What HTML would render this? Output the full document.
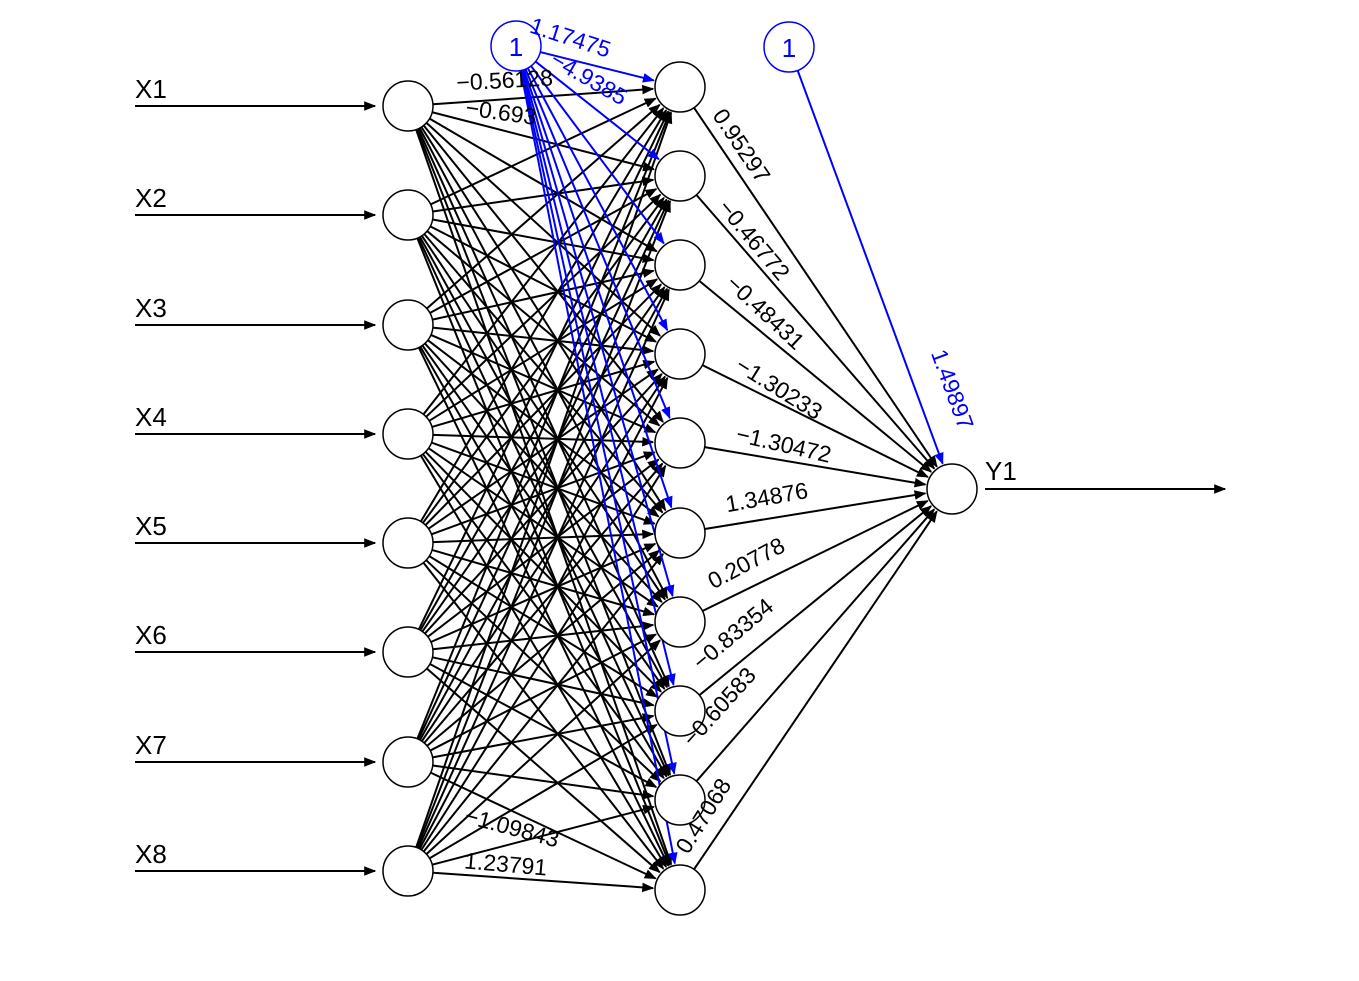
<!DOCTYPE html>
<html><head><meta charset="utf-8">
<style>
html,body{margin:0;padding:0;background:#fff;}
svg{display:block;}
text{font-family:"Liberation Sans",Arial,sans-serif;}
</style></head>
<body>
<svg id="s" width="1359" height="981" viewBox="0 0 1359 981" xmlns="http://www.w3.org/2000/svg">
<defs>
<marker id="ak" viewBox="0 0 10 10" refX="9" refY="5" markerWidth="12" markerHeight="12" orient="auto" markerUnits="userSpaceOnUse"><path d="M0,1 L10,5 L0,9 z" fill="#000"/></marker>
<marker id="ab" viewBox="0 0 10 10" refX="9" refY="5" markerWidth="12" markerHeight="12" orient="auto" markerUnits="userSpaceOnUse"><path d="M0,1 L10,5 L0,9 z" fill="#00f"/></marker>
</defs>
<g id="lines"></g>
<g id="nodes"></g>
<g font-size="26" fill="#000">
<text x="135" y="98">X1</text><text x="135" y="207">X2</text><text x="135" y="317">X3</text><text x="135" y="426">X4</text>
<text x="135" y="535">X5</text><text x="135" y="644">X6</text><text x="135" y="754">X7</text><text x="135" y="863">X8</text>
<text x="985" y="480">Y1</text>
</g>
<g font-size="23" fill="#000" text-anchor="middle">
<text transform="translate(735,150) rotate(56)">0.95297</text>
<text transform="translate(748,245) rotate(50)">−0.46772</text>
<text transform="translate(760,318) rotate(43)">−0.48431</text>
<text transform="translate(775,395) rotate(32)">−1.30233</text>
<text transform="translate(782,452) rotate(13)">−1.30472</text>
<text transform="translate(768,505) rotate(-10)">1.34876</text>
<text transform="translate(750,570) rotate(-28)">0.20778</text>
<text transform="translate(738,640) rotate(-40)">−0.83354</text>
<text transform="translate(725,712) rotate(-48)">−0.60583</text>
<text transform="translate(710,820) rotate(-58)">0.47068</text>
<text transform="translate(505,88) rotate(-3)">−0.56128</text>
<text transform="translate(500,120) rotate(8)">−0.693</text>
<text transform="translate(505,872) rotate(5)">1.23791</text>
<text transform="translate(510,835) rotate(15)">−1.09843</text>
</g>
<g font-size="23" fill="#00f" text-anchor="middle">
<text transform="translate(945,392) rotate(70)">1.49897</text>
<text transform="translate(568,45) rotate(18)">1.17475</text>
<text transform="translate(585,85) rotate(30)">−4.9385</text>
</g>
<script>
var s="http://www.w3.org/2000/svg",L=document.getElementById("lines"),N=document.getElementById("nodes");
var R=25,inY=[106,215,325,434,543,652,762,871],hY=[87,176,265,354,443,533,622,711,800,890],IX=408,HX=680,OX=952,OY=489;
function line(x1,y1,x2,y2,c,m,sh){var dx=x2-x1,dy=y2-y1,d=Math.sqrt(dx*dx+dy*dy);
if(sh){x1+=dx/d*R;y1+=dy/d*R;}x2-=dx/d*(R+2);y2-=dy/d*(R+2);
var l=document.createElementNS(s,"line");l.setAttribute("x1",x1);l.setAttribute("y1",y1);l.setAttribute("x2",x2);l.setAttribute("y2",y2);
l.setAttribute("stroke",c);l.setAttribute("stroke-width","2");l.setAttribute("marker-end","url(#"+m+")");L.appendChild(l);}
function circ(x,y,c){var e=document.createElementNS(s,"circle");e.setAttribute("cx",x);e.setAttribute("cy",y);e.setAttribute("r",R);e.setAttribute("fill","#fff");e.setAttribute("stroke",c);e.setAttribute("stroke-width","1.5");N.appendChild(e);}
inY.forEach(function(y){var l=document.createElementNS(s,"line");l.setAttribute("x1",135);l.setAttribute("y1",y);l.setAttribute("x2",IX-R-8);l.setAttribute("y2",y);l.setAttribute("stroke","#000");l.setAttribute("stroke-width","2");l.setAttribute("marker-end","url(#ak)");L.appendChild(l);});
inY.forEach(function(y){hY.forEach(function(h){line(IX,y,HX,h,"#000","ak",true);});});
hY.forEach(function(h){line(HX,h,OX,OY,"#000","ak",true);});
hY.forEach(function(h){line(516,46,HX,h,"#00f","ab",true);});
line(789,47,OX,OY,"#00f","ab",true);
var l=document.createElementNS(s,"line");l.setAttribute("x1",OX+R+8);l.setAttribute("y1",OY);l.setAttribute("x2",1225);l.setAttribute("y2",OY);l.setAttribute("stroke","#000");l.setAttribute("stroke-width","2");l.setAttribute("marker-end","url(#ak)");L.appendChild(l);
inY.forEach(function(y){circ(IX,y,"#000");});hY.forEach(function(h){circ(HX,h,"#000");});circ(OX,OY,"#000");
circ(516,46,"#00f");circ(789,47,"#00f");
</script>
<g font-size="26" fill="#00f" text-anchor="middle"><text x="516" y="56">1</text><text x="789" y="57">1</text></g>
</svg>
</body></html>
